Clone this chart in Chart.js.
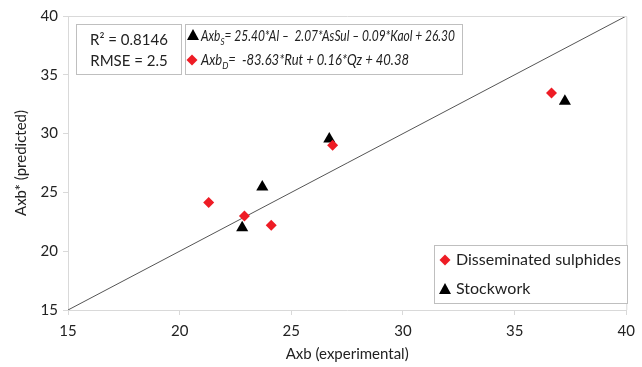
<!DOCTYPE html>
<html><head><meta charset="utf-8">
<script src="https://cdn.jsdelivr.net/npm/chart.js@4"></script>
<style>html,body{margin:0;padding:0;background:#fff}#wrap{width:642px;height:367px}</style>
</head><body><div id="wrap"><canvas id="c" width="642" height="367"></canvas></div>
<script>
const dissemX = [21.3, 22.9, 24.1, 26.85, 36.65];
const dissemY = [24.15, 23.0, 22.2, 29.0, 33.45];
const stockX = [22.8, 23.7, 26.7, 37.25];
const stockY = [22.0, 25.45, 29.55, 32.75];
const lineX = [15, 40];
const lineY = [15, 40];
const xTicks = [15, 20, 25, 30, 35, 40];
const yTicks = [15, 20, 25, 30, 35, 40];
const seriesNames = ['Disseminated sulphides', 'Stockwork'];
const statLines = ['R\u00B2 = 0.8146', 'RMSE = 2.5'];
const eqS = [['Axb', ''], ['S', 'sub'], ['= 25.40*Al \u2013  2.07*AsSul \u2013 0.09*Kaol + 26.30', '']];
const eqD = [['Axb', ''], ['D', 'sub'], ['=  -83.63*Rut + 0.16*Qz + 40.38', '']];

const FONT = 'Lato, "Open Sans", sans-serif';
const RED = '#ee1c25';

const pts = (xs, ys) => xs.map((x, i) => ({x, y: ys[i]}));

function drawMarker(ctx, type, x, y) {
  ctx.save();
  if (type === 'd') {
    ctx.fillStyle = RED;
    const r = 5.5;
    ctx.beginPath(); ctx.moveTo(x, y - r); ctx.lineTo(x + r, y); ctx.lineTo(x, y + r); ctx.lineTo(x - r, y); ctx.closePath(); ctx.fill();
  } else {
    ctx.fillStyle = '#000';
    ctx.beginPath(); ctx.moveTo(x, y - 6); ctx.lineTo(x + 6, y + 5); ctx.lineTo(x - 6, y + 5); ctx.closePath(); ctx.fill();
  }
  ctx.restore();
}

function eqWidth(ctx, parts) {
  let w = 0;
  for (const [t, kind] of parts) {
    ctx.font = (kind === 'sub' ? 'italic 10px ' : 'italic 15px ') + FONT;
    w += ctx.measureText(t).width;
  }
  return w;
}

function drawEq(ctx, parts, x, y, targetW) {
  const sx = targetW / eqWidth(ctx, parts);
  ctx.save();
  ctx.translate(x, y);
  ctx.scale(sx, 1);
  let cx = 0;
  for (const [t, kind] of parts) {
    if (kind === 'sub') {
      ctx.font = 'italic 10px ' + FONT;
      ctx.fillText(t, cx, 6);
    } else {
      ctx.font = 'italic 15px ' + FONT;
      ctx.fillText(t, cx, 0);
    }
    cx += ctx.measureText(t).width;
  }
  ctx.restore();
}

const overlay = {
  id: 'overlay',
  afterDraw(chart) {
    const ctx = chart.ctx, a = chart.chartArea;
    ctx.save();
    ctx.strokeStyle = '#d9d9d9'; ctx.lineWidth = 1;
    ctx.beginPath();
    ctx.moveTo(a.left, a.top + 0.5); ctx.lineTo(a.right + 0.5, a.top + 0.5); ctx.lineTo(a.right + 0.5, a.bottom);
    ctx.stroke();
    ctx.strokeStyle = '#bfbfbf';
    ctx.fillStyle = '#fff';
    ctx.fillRect(76.5, 24.5, 105, 50); ctx.strokeRect(76.5, 24.5, 105, 50);
    ctx.fillRect(185.5, 24.5, 277, 50); ctx.strokeRect(185.5, 24.5, 277, 50);
    ctx.fillStyle = '#222';
    ctx.textBaseline = 'middle'; ctx.textAlign = 'center';
    ctx.font = '15px ' + FONT;
    ctx.fillText(statLines[0], 129, 40);
    ctx.fillText(statLines[1], 129, 61);
    ctx.textAlign = 'left';
    drawMarker(ctx, 't', 193, 35);
    drawMarker(ctx, 'd', 192, 60);
    drawEq(ctx, eqS, 201, 36, 254);
    drawEq(ctx, eqD, 201, 60, 208);
    ctx.strokeStyle = '#bfbfbf';
    ctx.fillStyle = '#fff';
    ctx.fillRect(434.5, 245.5, 193, 58); ctx.strokeRect(434.5, 245.5, 193, 58);
    ctx.fillStyle = '#222';
    ctx.font = '16px ' + FONT;
    drawMarker(ctx, 'd', 445, 260);
    ctx.fillText(seriesNames[0], 456, 260);
    drawMarker(ctx, 't', 445, 289);
    ctx.fillText(seriesNames[1], 456, 289);
    ctx.restore();
  }
};

new Chart(document.getElementById('c'), {
  type: 'scatter',
  data: {
    datasets: [
      { type: 'line', label: 'line', data: pts(lineX, lineY), borderColor: '#555', borderWidth: 1, pointRadius: 0, order: 3 },
      { label: seriesNames[0], data: pts(dissemX, dissemY), pointStyle: 'rectRot', pointRadius: 5.5, backgroundColor: RED, borderColor: RED, borderWidth: 0, order: 1 },
      { label: seriesNames[1], data: pts(stockX, stockY), pointStyle: 'triangle', pointRadius: 7, backgroundColor: '#000', borderColor: '#000', borderWidth: 0, order: 2 }
    ]
  },
  options: {
    responsive: false, animation: false,
    layout: { padding: { left: 0, right: 9, top: 16, bottom: 0 } },
    plugins: { legend: { display: false }, tooltip: { enabled: false } },
    scales: {
      x: {
        type: 'linear', min: 15, max: 40,
        afterBuildTicks: s => { s.ticks = xTicks.map(v => ({value: v})); },
        afterFit: s => { s.height = 57; },
        ticks: { color: '#222', font: { family: FONT, size: 15 }, padding: 7 },
        grid: { drawOnChartArea: false, tickLength: 5, color: '#d9d9d9' },
        border: { color: '#d9d9d9' },
        title: { display: true, text: 'Axb (experimental)', color: '#222', font: { family: FONT, size: 15 }, padding: { top: 0 } }
      },
      y: {
        type: 'linear', min: 15, max: 40,
        afterBuildTicks: s => { s.ticks = yTicks.map(v => ({value: v})); },
        afterFit: s => { s.width = 68; },
        ticks: { color: '#222', font: { family: FONT, size: 15 }, padding: 5 },
        grid: { drawOnChartArea: false, tickLength: 5, color: '#d9d9d9' },
        border: { color: '#d9d9d9' },
        title: { display: true, text: 'Axb* (predicted)', color: '#222', font: { family: FONT, size: 15 }, padding: { top: 12, bottom: 0 } }
      }
    }
  },
  plugins: [overlay]
});
</script></body></html>
